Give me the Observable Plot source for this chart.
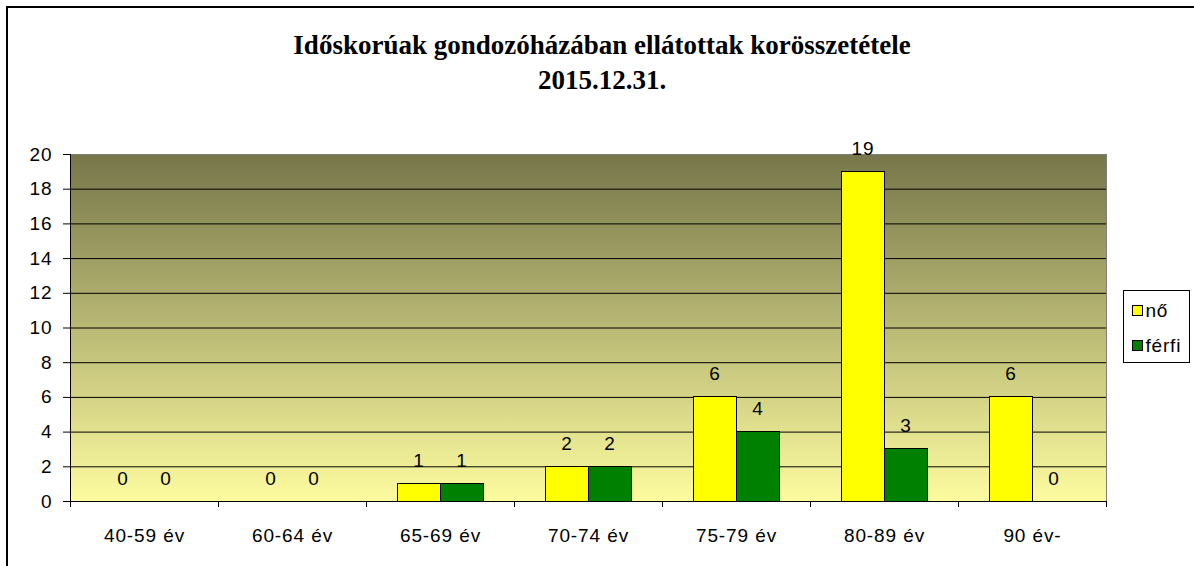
<!DOCTYPE html>
<html>
<head>
<meta charset="utf-8">
<script src="https://cdn.jsdelivr.net/npm/d3@7"></script>
<script src="https://cdn.jsdelivr.net/npm/@observablehq/plot@0.6"></script>
<style>
  body { margin: 0; background: #fff; }
  #wrap { position: relative; width: 1194px; height: 566px; overflow: hidden; background: #fff; font-family: "Liberation Sans", Arial, sans-serif; }
  #border { position: absolute; left: 6px; top: 6px; width: 1300px; height: 700px; border: 2px solid #000; box-sizing: border-box; }
  #title { position: absolute; left: 0; top: 28px; width: 1204px; text-align: center; font: bold 27px/35px "Liberation Serif", "Times New Roman", serif; color: #000; }
  #chart { position: absolute; left: 0; top: 0; }
  #legend { position: absolute; left: 1123px; top: 290px; width: 67px; height: 73px; border: 1.5px solid #000; background: #fff; box-sizing: border-box; }
  .sw { position: absolute; left: 7.5px; width: 11px; height: 11px; border: 1px solid #000; box-sizing: border-box; }
  .lt { position: absolute; left: 21.5px; font-size: 19px; line-height: 19px; letter-spacing: 0.8px; color: #000; white-space: nowrap; }
</style>
</head>
<body>
<div id="wrap">
  <div id="border"></div>
  <div id="title">Időskorúak gondozóházában ellátottak korösszetétele<br>2015.12.31.</div>
  <div id="chart"></div>
  <div id="legend"></div>
</div>
<script>
// ---- data ----
const categories = ["40-59 év", "60-64 év", "65-69 év", "70-74 év", "75-79 év", "80-89 év", "90 év-"];
const series = ["nő", "férfi"];
const noValues = [0, 0, 1, 2, 6, 19, 6];
const ferfiValues = [0, 0, 1, 2, 4, 3, 0];
const seriesColors = ["#ffff00", "#008000"];
const yTicks = [0, 2, 4, 6, 8, 10, 12, 14, 16, 18, 20];
const gridTicks = [2, 4, 6, 8, 10, 12, 14, 16, 18];

const rows = categories.flatMap((c, i) => [
  {cat: c, ser: series[0], v: noValues[i]},
  {cat: c, ser: series[1], v: ferfiValues[i]}
]);
const noRows = rows.filter(d => d.ser === series[0]);
const ferfiRows = rows.filter(d => d.ser === series[1]);

const W = 1194, H = 566;
const font = "'Liberation Sans', Arial, sans-serif";

const gradientDefs = () => {
  const defs = d3.create("svg:defs");
  const g = defs.append("linearGradient").attr("id", "bgGrad")
    .attr("x1", 0).attr("y1", 0).attr("x2", 0).attr("y2", 1);
  g.append("stop").attr("offset", "0%").attr("stop-color", "#76764a");
  g.append("stop").attr("offset", "100%").attr("stop-color", "#fdfca0");
  return defs.node();
};

const axisLines = (index, scales) => {
  const x = scales.x, y = scales.y;
  const bw = x.bandwidth();
  const g = d3.create("svg:g").attr("stroke", "#000").attr("stroke-width", 1)
    .attr("shape-rendering", "crispEdges");
  const x0 = x(categories[0]);
  g.append("line").attr("x1", x0).attr("x2", x0).attr("y1", y(20)).attr("y2", y(0));
  const edges = categories.map(c => x(c)).concat([x(categories[categories.length - 1]) + bw]);
  for (const e of edges) {
    g.append("line").attr("x1", e).attr("x2", e).attr("y1", y(0)).attr("y2", y(0) + 6);
  }
  g.append("line").attr("x1", x0).attr("x2", edges[edges.length - 1]).attr("y1", y(0)).attr("y2", y(0));
  return g.node();
};

const chart = Plot.plot({
  width: W,
  height: H,
  marginLeft: 70,
  marginRight: 88,
  marginTop: 154,
  marginBottom: 65,
  style: {fontFamily: font, fontSize: "19px", letterSpacing: "0.9px", background: "transparent", color: "#000"},
  x: {domain: categories, padding: 0},
  y: {domain: [0, 20]},
  marks: [
    gradientDefs,
    Plot.frame({fill: "url(#bgGrad)", stroke: "#808080"}),
    Plot.ruleY(gridTicks, {stroke: "#000", strokeWidth: 1}),
    Plot.barY(noRows, {x: "cat", y: "v", fill: seriesColors[0], stroke: "#000", strokeWidth: 1, insetLeft: 31, insetRight: 74, shapeRendering: "crispEdges"}),
    Plot.barY(ferfiRows, {x: "cat", y: "v", fill: seriesColors[1], stroke: "#000", strokeWidth: 1, insetLeft: 74, insetRight: 31, shapeRendering: "crispEdges"}),
    axisLines,
    Plot.text(noRows, {x: "cat", y: "v", text: d => String(d.v), dx: -21.5, dy: -17, lineAnchor: "bottom", fontSize: 19, fill: "#000"}),
    Plot.text(ferfiRows, {x: "cat", y: "v", text: d => String(d.v), dx: 21.5, dy: -17, lineAnchor: "bottom", fontSize: 19, fill: "#000"}),
    Plot.axisY(yTicks, {tickSize: 7, tickPadding: 11, fontSize: 19, label: null}),
    Plot.axisX({tickSize: 0, tickPadding: 27, fontSize: 19, label: null})
  ]
});
document.getElementById("chart").appendChild(chart);

// legend
const legend = document.getElementById("legend");
series.forEach((s, i) => {
  const sw = document.createElement("div");
  sw.className = "sw";
  sw.style.top = (13.5 + i * 35) + "px";
  sw.style.background = seriesColors[i];
  legend.appendChild(sw);
  const t = document.createElement("div");
  t.className = "lt";
  t.style.top = (9.5 + i * 35) + "px";
  t.textContent = s;
  legend.appendChild(t);
});
</script>
</body>
</html>
